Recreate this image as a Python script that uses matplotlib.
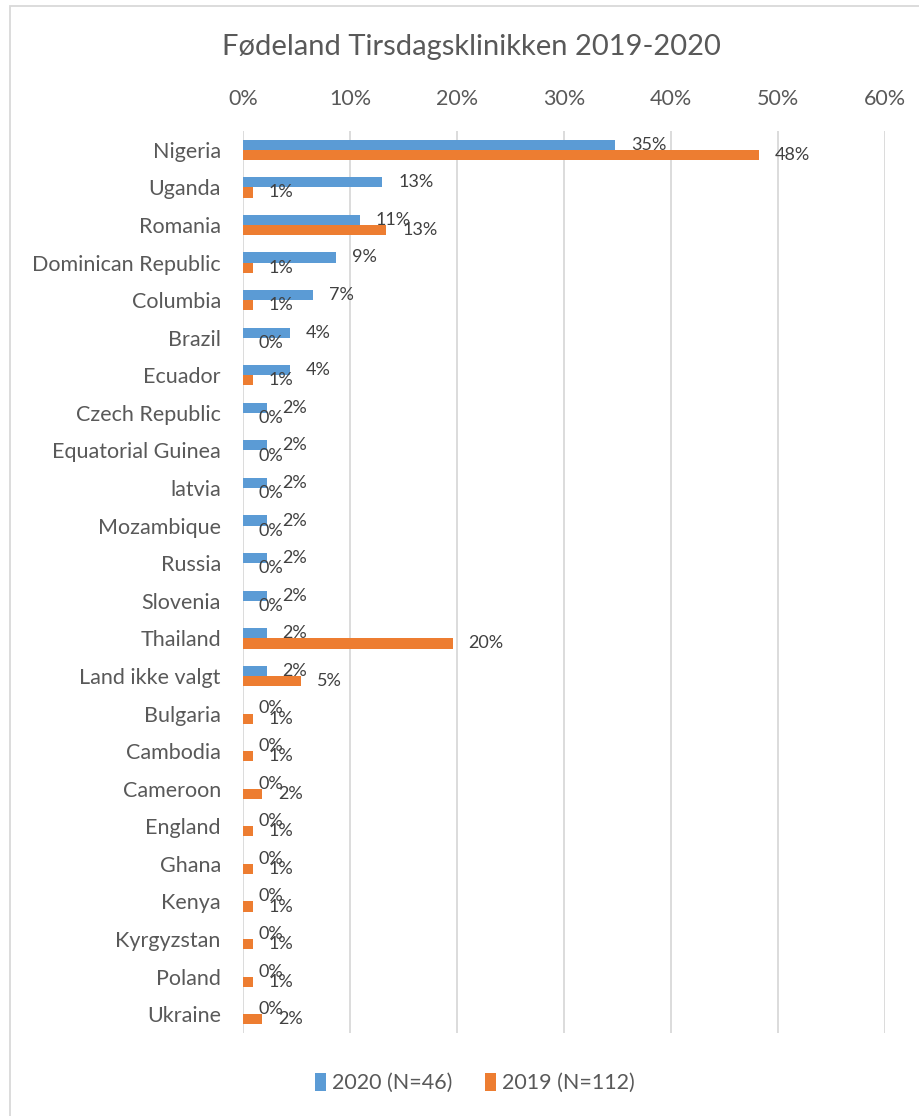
import matplotlib.pyplot as plt
import numpy as np
from matplotlib.patches import Rectangle

plt.rcParams['font.family'] = ['Lato', 'DejaVu Sans']

# data (percent)
countries = ['Nigeria', 'Uganda', 'Romania', 'Dominican Republic', 'Columbia', 'Brazil',
             'Ecuador', 'Czech Republic', 'Equatorial Guinea', 'latvia', 'Mozambique',
             'Russia', 'Slovenia', 'Thailand', 'Land ikke valgt', 'Bulgaria', 'Cambodia',
             'Cameroon', 'England', 'Ghana', 'Kenya', 'Kyrgyzstan', 'Poland', 'Ukraine']
v2020 = [34.8, 13.0, 10.9, 8.7, 6.52, 4.35, 4.35, 2.2, 2.2, 2.2, 2.2, 2.2, 2.2, 2.2, 2.2,
         0, 0, 0, 0, 0, 0, 0, 0, 0]
v2019 = [48.2, 0.9, 13.4, 0.9, 0.9, 0, 0.9, 0, 0, 0, 0, 0, 0, 19.6, 5.4,
         0.9, 0.9, 1.8, 0.9, 0.9, 0.9, 0.9, 0.9, 1.8]
xticks = [0, 10, 20, 30, 40, 50, 60]

blue = '#5B9BD5'
orange = '#ED7D31'
txt = '#595959'

fig = plt.figure(figsize=(9.19, 11.16), dpi=100)
ax = fig.add_axes([243/919, 1 - 1033/1116, 642/919, 902/1116])

y = np.arange(len(countries))
h = 0.27
ax.barh(y - h/2, v2020, height=h, color=blue, label='2020 (N=46)', zorder=3)
ax.barh(y + h/2, v2019, height=h, color=orange, label='2019 (N=112)', zorder=3)

for i in range(len(countries)):
    ax.annotate(f'{v2020[i]:.0f}%', (v2020[i], y[i] - h/2), xytext=(11.5, 0),
                textcoords='offset points', va='center', ha='left', fontsize=13, color='#404040')
    ax.annotate(f'{v2019[i]:.0f}%', (v2019[i], y[i] + h/2), xytext=(11.5, 0),
                textcoords='offset points', va='center', ha='left', fontsize=13, color='#404040')

ax.set_xlim(0, 60)
ax.set_ylim(len(countries) - 0.5, -0.5)
ax.set_xticks(xticks)
ax.set_xticklabels([f'{t}%' for t in xticks])
ax.xaxis.tick_top()
ax.tick_params(axis='x', length=0, pad=16, labelsize=15.5, colors=txt)
ax.set_yticks(y)
ax.set_yticklabels(countries)
ax.tick_params(axis='y', length=0, pad=16, labelsize=15.5, colors=txt)
ax.grid(axis='x', color='#D9D9D9', linewidth=1.3, zorder=0)
for s in ax.spines.values():
    s.set_visible(False)

fig.text(0.5 * (225 + 717) / 919, 1 - 47/1116, 'Fødeland Tirsdagsklinikken 2019-2020',
         ha='center', va='center', fontsize=21, color=txt)

fig.legend(loc='center', bbox_to_anchor=(475/919, 1 - 1083/1116), ncol=2, frameon=False,
           fontsize=15.5, handlelength=0.5, handleheight=0.9, handletextpad=0.3,
           columnspacing=1.5, labelcolor=txt)

fig.patches.append(Rectangle((10/919, -0.1), 1.1, 1 - 6/1116 + 0.1, transform=fig.transFigure,
                             fill=False, edgecolor='#D9D9D9', linewidth=1.3))

fig.savefig('out.png', dpi=100)
